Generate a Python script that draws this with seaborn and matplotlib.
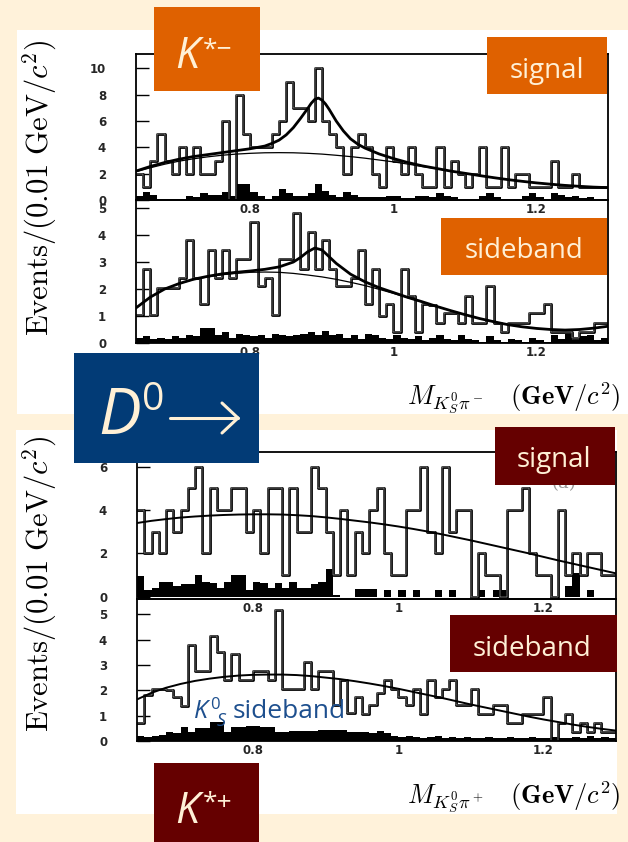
import numpy as np
import pandas as pd
import matplotlib
matplotlib.use("Agg")
import matplotlib.pyplot as plt
import seaborn as sns
from matplotlib.patches import Rectangle
from matplotlib.lines import Line2D

# ---------------------------------------------------------------- data
# 0.01 GeV/c^2 bins of the K0S pi invariant mass
BIN_LO, BIN_HI, BIN_W = 0.64, 1.30, 0.01
x_ticks = [0.8, 1.0, 1.2]
x_ticklabels = ["0.8", "1", "1.2"]

# K*- : signal region
kstm_signal = [2, 1, 3, 5, 3, 2, 4, 2, 4, 2, 2, 3, 6, 0, 8, 5, 4, 4, 4, 5, 6, 9, 7, 7, 6, 10,
               6, 5, 4, 2, 4, 5, 4, 2, 1, 4, 3, 2, 4, 2, 1, 1, 4, 1, 3, 2, 1, 2, 4, 1, 1, 4,
               1, 2, 2, 1, 1, 1, 3, 1, 1, 2, 1, 1, 1, 1]
kstm_signal_k0sb = [0.3, 0.6, 0.4, 0.1, 0.05, 0.05, 0.05, 0.3, 0.2, 0.5, 0.35, 0.4, 0.6, 0.3,
                    1.2, 1.2, 0.6, 0.3, 0.1, 0.3, 0.85, 0.5, 0.3, 0.3, 0.5, 1.2, 0.7, 0.4, 0.2,
                    0.6, 0.4, 0.2, 0.2, 0.25, 0.2, 0.3, 0.3, 0.15, 0.15, 0.3, 0.3, 0.2, 0.5,
                    0.3, 0.2, 0.1, 0.05, 0.1, 0.3, 0.5, 0.2, 0.1, 0.05, 0.1, 0.3, 0.5, 0.2,
                    0.1, 0.5, 0.4, 0.2, 0.3, 0.15, 0.2, 0.1, 0.1]

# K*- : D0 mass sideband
kstm_side = [1.05, 2.75, 1.05, 2.05, 2.05, 2.05, 2.4, 3.8, 2.4, 1.45, 3.45, 2.4, 3.45, 2.4,
             3.1, 3.1, 4.5, 2.1, 2.4, 1.05, 3.1, 3.1, 4.83, 2.75, 4.1, 2.75, 3.8, 2.75, 2.1,
             2.1, 2.4, 3.45, 1.45,
             2.75, 1.0, 1.45, 0.4, 2.75, 1.75, 0.4, 1.45, 1.4, 0.75, 1.1, 1.1, 0.75, 1.75,
             0.75, 0.75, 2.1, 0.75, 0.4, 0.75, 0.75, 0.75, 1.1, 1.1, 1.45, 0.4, 0.4, 0.4,
             0.2, 0.4, 0.4, 0.75, 0.75]
kstm_side_k0sb = [0.2, 0.25, 0.15, 0.2, 0.15, 0.25, 0.2, 0.3, 0.25, 0.55, 0.55, 0.3, 0.4, 0.2,
                  0.35, 0.3, 0.25, 0.3, 0.2, 0.35, 0.3, 0.25, 0.3, 0.35, 0.4, 0.3, 0.45, 0.3,
                  0.35, 0.2, 0.3, 0.15, 0.35,
                  0.3, 0.2, 0.15, 0.3, 0.2, 0.15, 0.25, 0.1, 0.2, 0.3, 0.15, 0.1, 0.3, 0.15,
                  0.1, 0.05, 0.25, 0.1, 0.05, 0.15, 0.1, 0.05, 0.2, 0.1, 0.05, 0.3, 0.15,
                  0.35, 0.1, 0.25, 0.3, 0.1, 0.2]

# K*+ : signal region
kstp_signal = [4, 2, 3, 2, 4, 3, 4, 5, 6, 2, 5, 4, 4, 5, 5, 3, 4, 2, 5, 5, 1, 5, 3, 3, 6, 5,
               3, 1, 4, 1, 3, 2, 4,
               5, 2, 1, 1, 4, 4, 6, 3, 2, 6, 3, 4, 4, 0, 2, 1, 1, 0, 4, 4, 5, 2, 1, 1, 0,
               4, 1, 2, 1, 2, 2, 1, 1]
kstp_signal_k0sb = [0.95, 0.3, 0.4, 0.7, 0.7, 0.5, 0.6, 0.6, 1.0, 0.7, 0.65, 0.4, 0.7, 1.0,
                    1.0, 0.3, 0.7, 0.65, 0.4, 0.65, 0.4, 0.7, 0.4, 0.4, 0.6, 0.7, 1.3, 0.1,
                    0.0, 0.0, 0.35, 0.35, 0.35,
                    0, 0.3, 0, 0.3, 0, 0.3, 0, 0, 0.3, 0, 0.3, 0, 0, 0, 0.3, 0, 0.3, 0.3,
                    0, 0, 0, 0, 0, 0, 0, 0, 0.5, 1.1, 0, 0.3, 0, 0, 0]

# K*+ : D0 mass sideband
kstp_side = [0.7, 1.8, 2.05, 2.05, 2.0, 1.75, 1.4, 3.8, 2.75, 2.75, 4.15, 3.5, 2.4, 3.45, 2.4,
             2.4, 2.75, 2.75, 2.4, 5.15, 2.05, 2.05, 2.05, 3.1, 2.05, 2.75, 2.75, 1.4, 2.4,
             1.1, 1.75, 1.05, 1.4,
             1.9, 2.4, 2.05, 1.75, 1.4, 2.05, 1.05, 2.4, 1.75, 2.05, 2.4, 1.4, 1.4, 2.05,
             1.05, 1.05, 1.4, 1.4, 0.7, 0.7, 1.05, 1.05, 1.05, 1.75, 0.0, 0.7, 1.05, 0.35,
             0.7, 0.35, 0.7, 0.35, 0.35]
kstp_side_k0sb = [0.2, 0.15, 0.2, 0.25, 0.35, 0.3, 0.55, 0.35, 0.5, 0.5, 0.75, 0.75, 0.35,
                  0.55, 0.55, 0.6, 0.6, 0.55, 0.55, 0.35, 0.35, 0.4, 0.4, 0.4, 0.4, 0.45,
                  0.45, 0.45, 0.45, 0.35, 0.35, 0.35, 0.3,
                  0.4, 0.3, 0.2, 0.15, 0.2, 0.15, 0.1, 0.15, 0.2, 0.1, 0.15, 0.1, 0.15,
                  0.1, 0.1, 0.15, 0.1, 0.1, 0.15, 0.1, 0.1, 0.15, 0.1, 0.1, 0.15, 0.1, 0.1,
                  0.15, 0.1, 0.2, 0.1, 0.15, 0.1]

# fitted curves
fit_x = [0.64, 0.66, 0.68, 0.70, 0.72, 0.74, 0.76, 0.78, 0.80, 0.82, 0.84, 0.86, 0.88, 0.90,
         0.92, 0.94, 0.96, 0.98, 1.00, 1.02, 1.04, 1.06, 1.08, 1.10, 1.12, 1.14, 1.16, 1.18,
         1.20, 1.22, 1.24, 1.26, 1.28, 1.30]

kstm_signal_bkg = [2.15, 2.45, 2.72, 2.95, 3.13, 3.28, 3.4, 3.49, 3.55, 3.59, 3.6, 3.59, 3.55,
                   3.49, 3.4, 3.3, 3.18, 3.04, 2.9, 2.73, 2.55, 2.38, 2.2, 2.03, 1.86, 1.7,
                   1.55, 1.42, 1.3, 1.2, 1.11, 1.04, 0.98, 0.94]
kstm_signal_tot_x = [0.64, 0.66, 0.68, 0.70, 0.72, 0.74, 0.76, 0.78, 0.80, 0.82, 0.83, 0.84,
                     0.85, 0.86, 0.87, 0.88, 0.885, 0.89, 0.895, 0.90, 0.905, 0.91, 0.92,
                     0.93, 0.94, 0.95, 0.96, 0.98, 1.00, 1.02, 1.04, 1.06, 1.08, 1.10, 1.12,
                     1.14, 1.16, 1.18, 1.20, 1.22, 1.24, 1.26, 1.28, 1.30]
kstm_signal_tot = [2.2, 2.55, 2.85, 3.1, 3.3, 3.45, 3.6, 3.75, 3.9, 4.1, 4.3, 4.55, 4.95, 5.5,
                   6.2, 6.95, 7.35, 7.65, 7.75, 7.6, 7.3, 6.9, 6.0, 5.25, 4.65, 4.25, 3.95,
                   3.5, 3.15, 2.85, 2.6, 2.4, 2.2, 2.03, 1.86, 1.7, 1.55, 1.42, 1.3, 1.2,
                   1.11, 1.04, 0.98, 0.94]

kstm_side_bkg = [1.3, 1.7, 2.0, 2.2, 2.35, 2.45, 2.53, 2.58, 2.62, 2.63, 2.62, 2.58, 2.52,
                 2.45, 2.36, 2.25, 2.13, 1.99, 1.84, 1.68, 1.52, 1.36, 1.2, 1.05, 0.91, 0.79,
                 0.68, 0.6, 0.54, 0.5, 0.48, 0.5, 0.55, 0.62]
kstm_side_tot_x = [0.64, 0.66, 0.68, 0.70, 0.72, 0.74, 0.76, 0.78, 0.80, 0.82, 0.84, 0.86,
                   0.87, 0.88, 0.89, 0.90, 0.91, 0.92, 0.94, 0.96, 0.98, 1.00, 1.02, 1.04,
                   1.06, 1.08, 1.10, 1.12, 1.14, 1.16, 1.18, 1.20, 1.22, 1.24, 1.26, 1.28,
                   1.30]
kstm_side_tot = [1.3, 1.7, 2.0, 2.2, 2.36, 2.47, 2.56, 2.62, 2.67, 2.73, 2.82, 3.0, 3.17,
                 3.38, 3.52, 3.45, 3.2, 2.95, 2.55, 2.27, 2.05, 1.87, 1.69, 1.53, 1.36, 1.2,
                 1.05, 0.91, 0.79, 0.68, 0.6, 0.54, 0.5, 0.48, 0.5, 0.55, 0.62]

kstp_signal_bkg = [3.4, 3.5, 3.58, 3.65, 3.7, 3.74, 3.77, 3.79, 3.8, 3.8, 3.79, 3.76, 3.72,
                   3.66, 3.59, 3.51, 3.43, 3.34, 3.24, 3.13, 3.01, 2.88, 2.74, 2.6, 2.45,
                   2.3, 2.15, 2.0, 1.84, 1.68, 1.53, 1.38, 1.23, 1.08]
kstp_side_bkg = [1.64, 1.9, 2.1, 2.25, 2.37, 2.46, 2.53, 2.58, 2.61, 2.62, 2.62, 2.6, 2.56,
                 2.5, 2.44, 2.36, 2.27, 2.17, 2.06, 1.94, 1.82, 1.7, 1.57, 1.44, 1.32, 1.2,
                 1.08, 0.96, 0.85, 0.75, 0.65, 0.56, 0.48, 0.41]

# ---------------------------------------------------------------- style
W, H = 628, 842
CREAM = "#FFF2DA"
ORANGE = "#DF6100"
MAROON = "#650000"
NAVY = "#023B76"
INK = "#FFF0D6"
BLUE = "#1D4F8E"

sns.set_theme(style="white")
plt.rcParams["font.family"] = ["DejaVu Sans"]

fig = plt.figure(figsize=(W / 100, H / 100), dpi=100, facecolor=CREAM)

n_bins = int(round((BIN_HI - BIN_LO) / BIN_W))
edges = [round(BIN_LO + i * BIN_W, 3) for i in range(n_bins + 1)]
centers = [round(e + BIN_W / 2, 4) for e in edges[:-1]]


def fx(px):
    return px / W


def fy(py):
    return 1 - py / H


def rect(x0, y0, x1, y1, color, z):
    fig.patches.append(Rectangle((fx(x0), fy(y1)), (x1 - x0) / W, (y1 - y0) / H,
                                 transform=fig.transFigure, facecolor=color,
                                 edgecolor="none", zorder=z))


def axes_at(x0, y0, x1, y1):
    ax = fig.add_axes([fx(x0), fy(y1), (x1 - x0) / W, (y1 - y0) / H])
    ax.set_facecolor("none")
    return ax


def draw_hist(ax, counts, k0s_counts, ylim, yticks, curves):
    frame = pd.DataFrame({"mass": centers, "n": counts, "n_k0s": k0s_counts})
    sns.histplot(data=frame, x="mass", weights="n_k0s", bins=edges, element="step",
                 fill=True, color="black", alpha=1, linewidth=0, ax=ax)
    # outlined step line: dark stroke with a thin light core
    sns.histplot(data=frame, x="mass", weights="n", bins=edges, element="step",
                 fill=False, color="black", linewidth=2.0, ax=ax)
    sns.histplot(data=frame, x="mass", weights="n", bins=edges, element="step",
                 fill=False, color="#d8d8d8", linewidth=0.35, ax=ax)
    for cx, cy, lw in curves:
        sns.lineplot(x=cx, y=cy, color="black", linewidth=lw, estimator=None, sort=False,
                     ax=ax)
    ax.set_xlim(BIN_LO, BIN_HI)
    ax.set_ylim(*ylim)
    ax.set_xlabel("")
    ax.set_ylabel("")
    ax.set_xticks(x_ticks)
    ax.set_xticklabels(x_ticklabels, fontweight="bold", fontsize=8.5)
    ax.set_yticks(yticks)
    ax.set_yticklabels([str(t) for t in yticks], fontweight="bold", fontsize=8.5)
    ax.tick_params(axis="x", bottom=True, length=0, pad=2.5)
    ax.tick_params(axis="y", left=True, right=False, direction="in", length=9, width=1.0,
                   pad=21.5, color="black")
    for s in ax.spines.values():
        s.set_visible(True)
        s.set_color("black")
        s.set_linewidth(1.3)


# white panels
rect(17, 30, 628, 414, "white", -10)
rect(16, 430, 617, 814, "white", -10)

# K*- group
ax1 = axes_at(136, 54, 608, 200)
draw_hist(ax1, kstm_signal, kstm_signal_k0sb, (0, 11.1), [0, 2, 4, 6, 8, 10],
          [(fit_x, kstm_signal_bkg, 0.9), (kstm_signal_tot_x, kstm_signal_tot, 2.0)])
ax2 = axes_at(136, 200, 608, 343)
draw_hist(ax2, kstm_side, kstm_side_k0sb, (0, 5.3), [0, 1, 2, 3, 4, 5],
          [(fit_x, kstm_side_bkg, 0.9), (kstm_side_tot_x, kstm_side_tot, 2.0)])

# K*+ group
ax3 = axes_at(137, 452, 616, 599)
draw_hist(ax3, kstp_signal, kstp_signal_k0sb, (-0.1, 6.67), [0, 2, 4, 6],
          [(fit_x, kstp_signal_bkg, 1.4)])
ax4 = axes_at(137, 599, 616, 741)
draw_hist(ax4, kstp_side, kstp_side_k0sb, (0, 5.6), [0, 1, 2, 3, 4, 5],
          [(fit_x, kstp_side_bkg, 1.4)])

# axis titles
ylab = r"$\mathrm{Events/(0.01\ GeV/}c^2\mathrm{)}$"
fig.text(fx(40), fy(188), ylab, rotation=90, ha="center", va="center", fontsize=22,
         math_fontfamily="cm", color="black")
fig.text(fx(40), fy(584), ylab, rotation=90, ha="center", va="center", fontsize=22,
         math_fontfamily="cm", color="black")
fig.text(fx(621), fy(398), r"$M_{K^0_S\pi^-}\ \ \ (\mathbf{GeV}/c^2)$", ha="right",
         va="center", fontsize=19, math_fontfamily="cm", color="black")
fig.text(fx(621), fy(797), r"$M_{K^0_S\pi^+}\ \ \ (\mathbf{GeV}/c^2)$", ha="right",
         va="center", fontsize=19, math_fontfamily="cm", color="black")

# faint panel tag partly under the label box
fig.text(fx(564), fy(483), "(a)", ha="center", va="center", fontsize=13, color="#9a9a9a",
         family="DejaVu Serif", zorder=4)

# label boxes
rect(154, 7, 260, 91, ORANGE, 5)
rect(487, 37, 607, 94, ORANGE, 5)
rect(441, 218, 607, 275, ORANGE, 5)
rect(74, 353, 259, 463, NAVY, 5)
rect(495, 427, 615, 485, MAROON, 5)
rect(450, 615, 617, 672, MAROON, 5)
rect(154, 763, 259, 842, MAROON, 5)

box_font = dict(family="Open Sans", color=INK, zorder=6)
fig.text(fx(175), fy(68), "K", fontsize=31, style="italic", va="baseline", **box_font)
fig.text(fx(203), fy(57), "*\u2212", fontsize=19, va="baseline", **box_font)
fig.text(fx(175), fy(823), "K", fontsize=31, style="italic", va="baseline", **box_font)
fig.text(fx(203), fy(810), "*+", fontsize=19, va="baseline", **box_font)

fig.text(fx(547), fy(78), "signal", fontsize=20, ha="center", va="baseline", **box_font)
fig.text(fx(524), fy(258), "sideband", fontsize=20, ha="center", va="baseline", **box_font)
fig.text(fx(554), fy(467), "signal", fontsize=20, ha="center", va="baseline", **box_font)
fig.text(fx(532), fy(656), "sideband", fontsize=20, ha="center", va="baseline", **box_font)

# D0 -> label
fig.text(fx(98), fy(434), "D", fontsize=46, style="italic", va="baseline", **box_font)
fig.text(fx(142), fy(410), "0", fontsize=28, va="baseline", **box_font)
for xs, ys in [((170, 238), (418, 418)), ((222, 238), (403, 418)), ((222, 238), (433, 418))]:
    fig.lines.append(Line2D([fx(v) for v in xs], [fy(v) for v in ys], transform=fig.transFigure,
                            color=INK, linewidth=2.2, solid_capstyle="round", zorder=6))

# K0S sideband annotation
blue_font = dict(family="Open Sans", color=BLUE, zorder=6, va="baseline")
fig.text(fx(194), fy(718), "K", fontsize=18, style="italic", **blue_font)
fig.text(fx(210), fy(709), "0", fontsize=12, **blue_font)
fig.text(fx(217), fy(726), "S", fontsize=13, style="italic", **blue_font)
fig.text(fx(233), fy(718), "sideband", fontsize=19, **blue_font)

fig.savefig("out.png", dpi=100, facecolor=CREAM)
